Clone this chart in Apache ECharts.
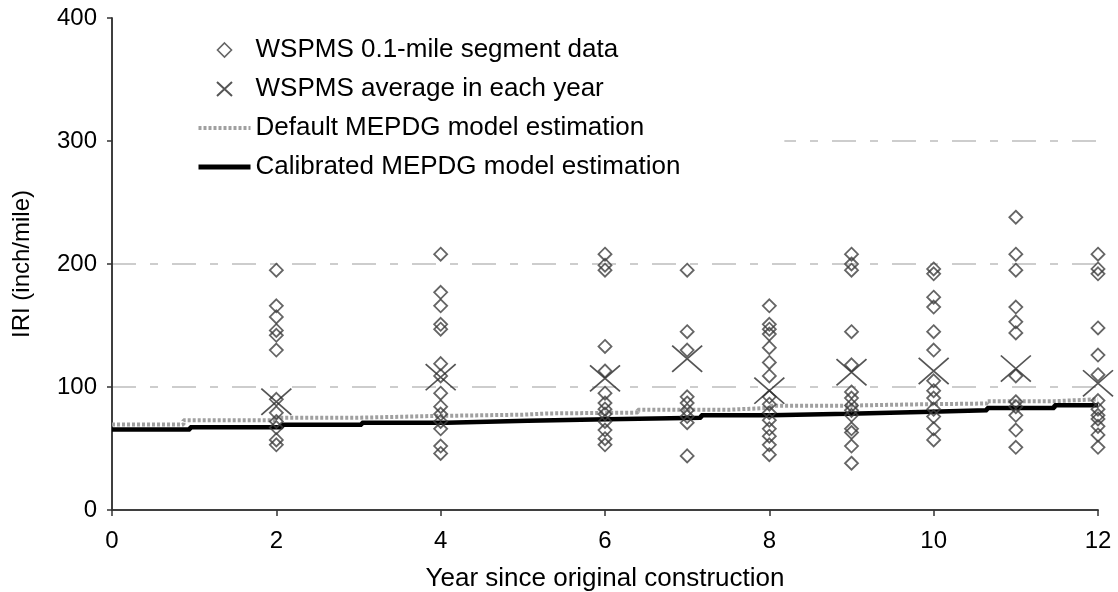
<!DOCTYPE html>
<html>
<head>
<meta charset="utf-8">
<script src="https://cdn.jsdelivr.net/npm/echarts@6/dist/echarts.min.js"></script>
<style>
  html, body { margin: 0; padding: 0; background: #fff; }
  #chart { width: 1118px; height: 592px; }
</style>
</head>
<body>
<div id="chart"></div>
<script>
// Years with WSPMS survey data
const years = [2, 4, 6, 7, 8, 9, 10, 11, 12];

// IRI (inch/mile) of each 0.1-mile segment, one list per survey year
const segmentIRI = [
  [195, 166, 157, 146, 142, 130, 90, 79, 72, 67, 57, 53],
  [208, 177, 166, 151, 147, 119, 109, 95, 84, 78, 72, 66, 52, 46],
  [208, 199, 195, 133, 113, 95, 87, 82, 78, 72, 65, 58, 53],
  [195, 145, 130, 92, 87, 81, 76, 71, 44],
  [166, 151, 147, 143, 132, 120, 109, 92, 86, 79, 73, 66, 60, 53, 45],
  [208, 200, 195, 145, 118, 96, 91, 85, 81, 77, 66, 63, 52, 38],
  [196, 192, 173, 165, 145, 130, 105, 97, 91, 82, 76, 66, 57],
  [238, 208, 195, 165, 153, 144, 109, 88, 84, 77, 65, 51],
  [208, 196, 192, 148, 126, 110, 89, 82, 77, 74, 68, 61, 51]
];

// WSPMS average IRI in each survey year
const averageIRI = [88, 108, 107, 123, 97, 112, 113, 115, 103];

// Default MEPDG model: IRI level starting at each year value
const defaultYears = [0, 0.87, 2.0, 2.98, 3.9, 5.0, 5.3, 6.4, 7.5, 8.0, 8.9, 9.7, 10.65, 11.47, 12];
const defaultIRI   = [69.5, 73, 75, 76.4, 77.5, 78.5, 79.2, 81.5, 83, 84.8, 85.8, 86.6, 88.5, 90, 90];

// Calibrated MEPDG model: IRI level starting at each year value
const calibratedYears = [0, 0.95, 2.07, 3.04, 4.07, 5.06, 6.03, 7.17, 8.02, 8.96, 9.85, 10.65, 11.47, 12];
const calibratedIRI   = [65.5, 67.3, 69.3, 71, 72.6, 73.8, 75, 77, 78.3, 79.7, 81, 83, 85.2, 85.2];

const xTicks = { min: 0, max: 12, interval: 2 };
const yTicks = { min: 0, max: 400, interval: 100 };

const names = [
  'WSPMS 0.1-mile segment data',
  'WSPMS average in each year',
  'Default MEPDG model estimation',
  'Calibrated MEPDG model estimation'
];

const FONT = "'Liberation Sans', Arial, Helvetica, sans-serif";
const CROSS = 'path://M0,0L30,28M30,0L0,28';
const DIAMOND = 'path://M7,0L14,7L7,14L0,7Z';

const segmentPoints = [];
years.forEach((yr, i) => segmentIRI[i].forEach(v => segmentPoints.push([yr, v])));
const averagePoints = years.map((yr, i) => [yr, averageIRI[i]]);
const defaultPoints = defaultYears.map((x, i) => [x, defaultIRI[i]]);
const calibratedPoints = calibratedYears.map((x, i) => [x, calibratedIRI[i]]);

const chart = echarts.init(document.getElementById('chart'), null, { renderer: 'canvas' });

const frameAxis = {
  show: true,
  axisLine: { show: true, lineStyle: { color: '#333', width: 1.5 } },
  axisTick: { show: false },
  axisLabel: { show: false },
  splitLine: { show: false }
};

chart.setOption({
  animation: false,
  backgroundColor: '#fff',
  textStyle: { fontFamily: FONT },
  grid: { left: 112, right: 20, top: 18, bottom: 82, containLabel: false, outerBoundsMode: 'none' },
  legend: {
    orient: 'vertical',
    left: 113,
    top: 22,
    padding: [15, 104, 15, 83],
    backgroundColor: '#fff',
    itemWidth: 52,
    itemHeight: 14,
    itemGap: 13,
    symbolKeepAspect: true,
    selectedMode: false,
    textStyle: { fontFamily: FONT, fontSize: 26, color: '#000', lineHeight: 26 },
    data: [
      { name: names[0], icon: DIAMOND, itemStyle: { color: 'rgba(255,255,255,0)', borderColor: '#3f3f3f', borderWidth: 1.6 } },
      { name: names[1], icon: CROSS },
      { name: names[2], lineStyle: { width: 4 }, itemStyle: { opacity: 0 } },
      { name: names[3], lineStyle: { width: 5 }, itemStyle: { opacity: 0 } }
    ]
  },
  xAxis: [
    {
      type: 'value',
      min: xTicks.min, max: xTicks.max, interval: xTicks.interval,
      name: 'Year since original construction',
      nameLocation: 'middle',
      nameGap: 56,
      nameTextStyle: { fontFamily: FONT, fontSize: 26, color: '#000' },
      axisLine: { show: true, onZero: false, lineStyle: { color: '#333', width: 1.5 } },
      axisTick: { show: true, inside: false, length: 6, lineStyle: { color: '#333', width: 1.5 } },
      axisLabel: { fontFamily: FONT, fontSize: 24, color: '#000', margin: 19 },
      splitLine: { show: false }
    },
    Object.assign({ type: 'value', position: 'top', min: xTicks.min, max: xTicks.max }, frameAxis)
  ],
  yAxis: [
    {
      type: 'value',
      min: yTicks.min, max: yTicks.max, interval: yTicks.interval,
      name: 'IRI (inch/mile)',
      nameLocation: 'middle',
      nameRotate: 90,
      nameGap: 78,
      nameTextStyle: { fontFamily: FONT, fontSize: 24, color: '#000' },
      axisLine: { show: true, onZero: false, lineStyle: { color: '#333', width: 1.5 } },
      axisTick: { show: true, inside: false, length: 5, lineStyle: { color: '#333', width: 1.5 } },
      axisLabel: { fontFamily: FONT, fontSize: 24, color: '#000', margin: 15 },
      splitLine: {
        show: true,
        showMinLine: false,
        showMaxLine: false,
        lineStyle: { color: '#bdbdbd', width: 1.5, type: [24, 14, 8, 14] }
      }
    },
    Object.assign({ type: 'value', position: 'right', min: yTicks.min, max: yTicks.max }, frameAxis)
  ],
  series: [
    {
      name: names[2],
      type: 'line',
      step: 'end',
      showSymbol: false,
      symbol: 'none',
      z: 2,
      lineStyle: { color: '#a0a0a0', width: 4, type: [3, 2] },
      itemStyle: { color: '#a0a0a0' },
      data: defaultPoints
    },
    {
      name: names[3],
      type: 'line',
      step: 'end',
      showSymbol: false,
      symbol: 'none',
      z: 3,
      lineStyle: { color: '#000', width: 4.5 },
      itemStyle: { color: '#000' },
      data: calibratedPoints
    },
    {
      name: names[0],
      type: 'scatter',
      symbol: 'diamond',
      symbolSize: [13, 13],
      z: 4,
      itemStyle: { color: 'rgba(255,255,255,0)', borderColor: '#3f3f3f', borderWidth: 1.8 },
      data: segmentPoints
    },
    {
      name: names[1],
      type: 'scatter',
      symbol: CROSS,
      symbolSize: [30, 28],
      symbolKeepAspect: true,
      z: 5,
      itemStyle: { color: 'none', borderColor: '#2a2a2a', borderWidth: 1.7 },
      data: averagePoints
    }
  ]
});
</script>
</body>
</html>
